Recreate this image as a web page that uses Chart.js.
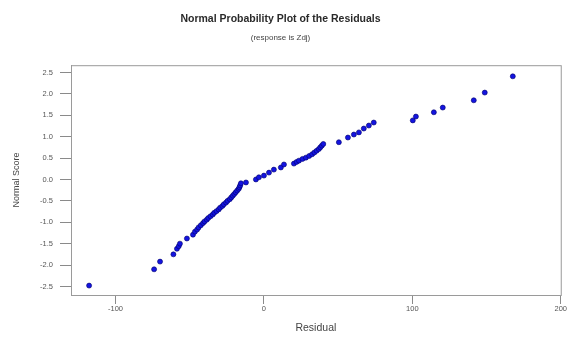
<!DOCTYPE html>
<html>
<head>
<meta charset="utf-8">
<script src="https://cdn.jsdelivr.net/npm/chart.js@4"></script>
<style>
  html, body { margin: 0; padding: 0; background: #fff; }
  #wrap { width: 567px; height: 341px; }
</style>
</head>
<body>
<div id="wrap"><canvas id="myChart"></canvas></div>
<script>
// residuals (x) and normal scores (y), lowest first
const residuals = [
  -117.8, -74.0, -70.0, -61.0, -58.6, -57.4, -56.6, -51.9, -47.8,
  -46.5, -45.0, -44.0, -42.5, -41.0, -40.0, -38.5, -37.5, -36.0, -34.5,
  -33.5, -32.0, -30.5, -29.5, -28.0, -27.0, -25.5, -24.5, -23.0, -22.0,
  -21.0, -20.0, -19.0, -18.0, -17.0, -16.5, -16.0,
  -15.5, -12.1, -5.4, -3.4, 0.0, 3.4, 6.7, 11.4, 13.5,
  20.2, 22.0, 23.6, 26.0, 28.3, 30.5, 32.5, 34.0, 35.5, 37.0, 38.0, 39.0, 40.0,
  50.5, 56.6, 60.6, 64.0, 67.3, 70.7, 74.0,
  100.3, 102.4, 114.5, 120.5, 141.4, 148.8, 167.7
];
const normalScores = [
  -2.48, -2.10, -1.92, -1.75, -1.62, -1.56, -1.50, -1.38, -1.29,
  -1.22, -1.17, -1.12, -1.07, -1.02, -0.98, -0.94, -0.90, -0.86, -0.82,
  -0.78, -0.74, -0.70, -0.66, -0.62, -0.58, -0.54, -0.50, -0.46, -0.42,
  -0.38, -0.34, -0.30, -0.26, -0.22, -0.18, -0.14,
  -0.09, -0.07, 0.00, 0.05, 0.09, 0.16, 0.23, 0.28, 0.35,
  0.37, 0.41, 0.44, 0.48, 0.51, 0.55, 0.59, 0.63, 0.67, 0.71, 0.75, 0.79, 0.83,
  0.87, 0.98, 1.05, 1.10, 1.19, 1.26, 1.33,
  1.38, 1.47, 1.57, 1.68, 1.85, 2.03, 2.41
];
const xTicks = [-100, 0, 100, 200];
const yTicks = [-2.5, -2.0, -1.5, -1.0, -0.5, 0.0, 0.5, 1.0, 1.5, 2.0, 2.5];

let points = residuals.map((r, i) => {
  return { x: r, y: normalScores[i] };
});

// box round the plot area (top and right sides too)
const frame = {
  id: 'frame',
  afterDraw(chart) {
    const a = chart.chartArea;
    const ctx = chart.ctx;
    ctx.save();
    ctx.strokeStyle = '#9a9a9a';
    ctx.lineWidth = 1;
    ctx.strokeRect(a.left + 0.5, a.top + 0.5, a.right - a.left, a.bottom - a.top);
    ctx.restore();
  }
};

const myChart = document.getElementById('myChart');

let scatterChart = new Chart(myChart, {
  type: 'scatter',
  data: {
    datasets: [{
      data: points,
      backgroundColor: '#1414e0',
      borderColor: '#00006a',
      borderWidth: 0.6,
      pointRadius: 2.5
    }]
  },
  options: {
    responsive: true,
    maintainAspectRatio: false,
    animation: false,
    layout: { padding: { left: 0, right: 6, top: 0, bottom: 0 } },
    plugins: {
      legend: { display: false },
      tooltip: { enabled: false },
      title: {
        display: true,
        text: 'Normal Probability Plot of the Residuals',
        color: '#2a2a2a',
        font: { family: 'Liberation Sans, Arial', size: 10.5, weight: 'bold', lineHeight: 1.2 },
        padding: { top: 13, bottom: 5 }
      },
      subtitle: {
        display: true,
        text: '(response is Zdj)',
        color: '#444',
        font: { family: 'Liberation Sans, Arial', size: 8, lineHeight: 1.2 },
        padding: { top: 2, bottom: 23 }
      }
    },
    scales: {
      x: {
        type: 'linear',
        min: -130,
        max: 200,
        afterFit(scale) { scale.height = 46; },
        afterBuildTicks(scale) { scale.ticks = xTicks.map(v => ({ value: v })); },
        grid: { drawOnChartArea: false, drawTicks: true, tickLength: 9, color: '#8a8a8a' },
        border: { display: true, color: '#9a9a9a' },
        ticks: {
          padding: 0,
          color: '#555',
          font: { family: 'Liberation Sans, Arial', size: 7.5 },
          maxRotation: 0
        },
        title: {
          display: true,
          text: 'Residual',
          color: '#444',
          font: { family: 'Liberation Sans, Arial', size: 10.5, lineHeight: 1.2 },
          padding: { top: 0, bottom: 7 }
        }
      },
      y: {
        type: 'linear',
        min: -2.7,
        max: 2.67,
        afterFit(scale) { scale.width = 71; },
        afterBuildTicks(scale) { scale.ticks = yTicks.map(v => ({ value: v })); },
        grid: { drawOnChartArea: false, drawTicks: true, tickLength: 11, color: '#8a8a8a' },
        border: { display: true, color: '#9a9a9a' },
        ticks: {
          padding: 7,
          color: '#555',
          font: { family: 'Liberation Sans, Arial', size: 7.5 },
          callback: v => v.toFixed(1)
        },
        title: {
          display: true,
          text: 'Normal Score',
          color: '#444',
          font: { family: 'Liberation Sans, Arial', size: 9, lineHeight: 1.2 },
          padding: { top: 11, bottom: 0 }
        }
      }
    }
  },
  plugins: [frame]
});
</script>
</body>
</html>
